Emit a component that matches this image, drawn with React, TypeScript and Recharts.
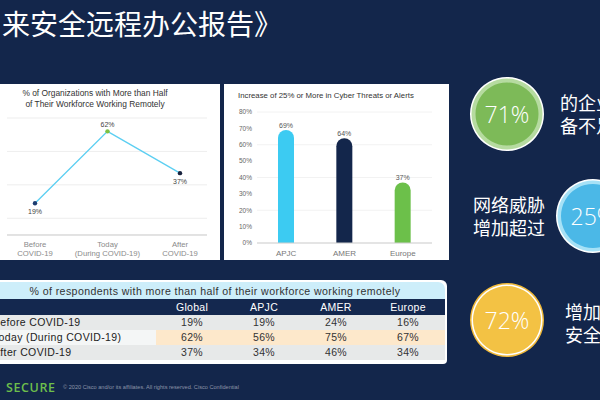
import React from 'react';
import {
  LineChart, Line, XAxis, YAxis, CartesianGrid, LabelList,
  BarChart, Bar, Cell, PieChart, Pie,
} from 'recharts';

// ---------- data ----------
const remoteCategories = ['Before|COVID-19', 'Today|(During COVID-19)', 'After|COVID-19'];
const remoteValues = [19, 62, 37];
const remoteDotColors = ['#1c3c70', '#7cc142', '#17223e'];
const remoteTicks = [0, 10, 20, 30, 40, 50, 60, 70];

const threatRegions = ['APJC', 'AMER', 'Europe'];
const threatValues = [69, 64, 37];
const threatColors = ['#3ccbf2', '#13264b', '#6cc04a'];
const threatTicks = [0, 10, 20, 30, 40, 50, 60, 70, 80];

const tableTitle = '% of respondents with more than half of their workforce working remotely';
const tableColumns = ['Global', 'APJC', 'AMER', 'Europe'];
const tableRowLabels = ['Before COVID-19', 'Today (During COVID-19)', 'After COVID-19'];
const tableBefore = [19, 19, 24, 16];
const tableToday = [62, 56, 75, 67];
const tableAfter = [37, 34, 46, 34];

const statValues = [71, 25, 72];
const statTextA = ['的企业', '备不足'];
const statTextB = ['网络威胁', '增加超过'];
const statTextC = ['增加', '安全'];

const slideTitle = '来安全远程办公报告》';

const remoteData = remoteCategories.map((c, i) => ({ cat: c, value: remoteValues[i] }));
const threatData = threatRegions.map((r, i) => ({ region: r, value: threatValues[i] }));
const tableRows = [tableBefore, tableToday, tableAfter];

const NAVY = '#13264b';
const SANS = '"Liberation Sans", Arial, sans-serif';
const CJK = '"Noto Sans CJK SC", sans-serif';

const TwoLineTick = (props: any) => {
  const { x, y, payload } = props;
  const [a, b] = String(payload.value).split('|');
  return (
    <text x={x} y={y} textAnchor="middle" fill="#8a8a8a" fontSize={7.7} fontFamily={SANS}>
      <tspan x={x} dy={12}>{a}</tspan>
      <tspan x={x} dy={9}>{b}</tspan>
    </text>
  );
};

const RegionTick = (props: any) => {
  const { x, y, payload } = props;
  return (
    <text x={x} y={y + 13} textAnchor="middle" fill="#777" fontSize={8} fontFamily={SANS}>
      {payload.value}
    </text>
  );
};

const ColoredDot = (props: any) => {
  const { cx, cy, index } = props;
  return <circle key={index} cx={cx} cy={cy} r={2.2} fill={remoteDotColors[index]} />;
};

const RemoteLabel = (props: any) => {
  const { x, y, value, index } = props;
  const above = index === 1;
  return (
    <text x={x} y={above ? y - 4 : y + 11} textAnchor="middle" fill="#444" fontSize={7} fontFamily={SANS}>
      {value}%
    </text>
  );
};

const StatCircle = ({ cx, cy, value, fill, ring, outer, inner }: any) => {
  const size = 76;
  return (
    <div style={{ position: 'absolute', left: cx - size / 2, top: cy - size / 2, width: size, height: size }}>
      <PieChart width={size} height={size} margin={{ top: 0, right: 0, bottom: 0, left: 0 }}>
        <Pie data={[{ v: value }]} dataKey="v" cx="50%" cy="50%" innerRadius={0} outerRadius={37}
          fill={outer} stroke="none" isAnimationActive={false} />
        <Pie data={[{ v: value }]} dataKey="v" cx="50%" cy="50%" innerRadius={0} outerRadius={35.5}
          fill={ring} stroke="none" isAnimationActive={false} />
        <Pie data={[{ v: value }]} dataKey="v" cx="50%" cy="50%" innerRadius={0} outerRadius={inner}
          fill={fill} stroke="none" isAnimationActive={false} />
      </PieChart>
      <div style={{
        position: 'absolute', left: 0, top: 0, width: size, height: size, display: 'flex',
        alignItems: 'center', justifyContent: 'center', color: '#fff', fontFamily: '"Open Sans", sans-serif',
        fontSize: 23, fontWeight: 300,
      }}>{value}%</div>
    </div>
  );
};

const TwoLines = ({ left, top, lines }: any) => (
  <div style={{
    position: 'absolute', left, top, color: '#fff', fontFamily: CJK, fontSize: 18,
    lineHeight: '23px', whiteSpace: 'nowrap',
  }}>
    {lines.map((l: string, i: number) => <div key={i}>{l}</div>)}
  </div>
);

export default function App() {
  const colLeft = 156;
  const colW = 72;
  return (
    <div style={{
      position: 'fixed', left: 0, top: 0, width: 600, height: 400, background: NAVY,
      overflow: 'hidden', fontFamily: SANS,
    }}>
      {/* slide title */}
      <div style={{
        position: 'absolute', left: 2, top: 5, color: '#fff', fontFamily: CJK, fontSize: 28,
        lineHeight: '36px', whiteSpace: 'nowrap',
      }}>{slideTitle}</div>

      {/* left panel: line chart */}
      <div style={{ position: 'absolute', left: 0, top: 84, width: 220, height: 176, background: '#fff' }}>
        <div style={{
          position: 'absolute', left: 0, top: 4, width: 190, textAlign: 'center', fontSize: 8.4,
          lineHeight: '10.5px', color: '#333',
        }}>
          % of Organizations with More than Half<br />of Their Workforce Working Remotely
        </div>
        <LineChart width={220} height={176} data={remoteData}
          margin={{ top: 34, right: 13, bottom: 0, left: 7 }}>
          <CartesianGrid vertical={false} stroke="#e8e8e8" strokeWidth={0.8} />
          <XAxis dataKey="cat" interval={0} padding={{ left: 28, right: 27 }} height={25}
            axisLine={{ stroke: '#cfcfcf' }} tickLine={false} tickSize={0} tickMargin={0}
            tick={<TwoLineTick />} />
          <YAxis hide domain={[0, 70]} ticks={remoteTicks} />
          <Line type="linear" dataKey="value" stroke="#5ccff2" strokeWidth={1.3}
            dot={<ColoredDot />} activeDot={false} isAnimationActive={false}>
            <LabelList dataKey="value" content={<RemoteLabel />} />
          </Line>
        </LineChart>
      </div>

      {/* right panel: bar chart */}
      <div style={{ position: 'absolute', left: 224, top: 84, width: 225, height: 176, background: '#fff' }}>
        <div style={{
          position: 'absolute', left: 14, top: 7, fontSize: 7.8, color: '#333', whiteSpace: 'nowrap',
        }}>Increase of 25% or More in Cyber Threats or Alerts</div>
        <BarChart width={225} height={176} data={threatData}
          margin={{ top: 28, right: 17, bottom: 0, left: 0 }}>
          <CartesianGrid vertical={false} stroke="#efefef" strokeWidth={0.8} />
          <XAxis dataKey="region" height={17} axisLine={{ stroke: '#cfcfcf' }} tickLine={false}
            tickSize={0} tickMargin={0} tick={<RegionTick />} />
          <YAxis width={33} domain={[0, 80]} ticks={threatTicks} axisLine={false} tickLine={false}
            tickSize={3} tickMargin={2} tickFormatter={(v: number) => `${v}%`}
            tick={{ fontSize: 6.5, fill: '#666', fontFamily: SANS }} />
          <Bar dataKey="value" barSize={16} radius={[8, 8, 0, 0]} isAnimationActive={false}>
            {threatData.map((d, i) => <Cell key={d.region} fill={threatColors[i]} />)}
            <LabelList dataKey="value" position="top" offset={2}
              formatter={(v: any) => `${v}%`} fill="#555" fontSize={7} fontFamily={SANS} />
          </Bar>
        </BarChart>
      </div>

      {/* table */}
      <div style={{
        position: 'absolute', left: -12, top: 280, width: 459, height: 84, background: '#fff',
        borderRadius: '0 6px 4px 0',
      }} />
      <div style={{
        position: 'absolute', left: -12, top: 282, width: 457, height: 17, background: '#cdeefa',
        borderRadius: '0 7px 0 0', fontSize: 10.6, lineHeight: '19px', color: '#333',
        whiteSpace: 'nowrap', letterSpacing: 0.4,
      }}>
        <span style={{ position: 'absolute', left: 12 + 215 - 200, width: 400, textAlign: 'center' }}>{tableTitle}</span>
      </div>
      <div style={{ position: 'absolute', left: -12, top: 299, width: 457, height: 16, background: '#14284f' }} />
      {tableColumns.map((c, i) => (
        <div key={c} style={{
          position: 'absolute', left: colLeft + i * colW, top: 299, width: colW, height: 16,
          textAlign: 'center', color: '#fff', fontSize: 10.5, lineHeight: '17px', letterSpacing: 0.3,
        }}>{c}</div>
      ))}
      {tableRows.map((row, r) => (
        <React.Fragment key={r}>
          <div style={{
            position: 'absolute', left: -12, top: 315 + r * 15, width: 168, height: 15,
            background: r === 1 ? '#f4f6f6' : '#e7e9e9',
          }} />
          <div style={{
            position: 'absolute', left: 156, top: 315 + r * 15, width: 289, height: 15,
            background: r === 1 ? '#fde8cb' : '#e7e9e9',
          }} />
          <div style={{
            position: 'absolute', left: -7, top: 315 + r * 15, height: 15, lineHeight: '15px',
            fontSize: 10.5, color: '#222', whiteSpace: 'nowrap', letterSpacing: 0.35,
          }}>{tableRowLabels[r]}</div>
          {row.map((v, i) => (
            <div key={i} style={{
              position: 'absolute', left: colLeft + i * colW, top: 315 + r * 15, width: colW, height: 15,
              textAlign: 'center', lineHeight: '15px', fontSize: 10.5, color: '#333', letterSpacing: 0.3,
            }}>{v}%</div>
          ))}
        </React.Fragment>
      ))}

      {/* stat circles */}
      <StatCircle cx={507} cy={114} value={statValues[0]} fill="#7dba58" ring="#b6dba0" outer="#ffffff" inner={31.5} />
      <TwoLines left={560} top={91} lines={statTextA} />
      <StatCircle cx={593} cy={216} value={statValues[1]} fill="#4bb8e7" ring="#a6e1f6" outer="#ffffff" inner={32} />
      <TwoLines left={473} top={193} lines={statTextB} />
      <StatCircle cx={507} cy={320} value={statValues[2]} fill="#f3c244" ring="#ffffff" outer="#f0b93a" inner={34} />
      <TwoLines left={565} top={300} lines={statTextC} />

      {/* footer */}
      <div style={{
        position: 'absolute', left: 6, top: 379, color: '#6dbf4b', fontFamily: '"Open Sans", sans-serif',
        fontSize: 12.5, fontWeight: 600, letterSpacing: 0.6,
      }}>SECURE</div>
      <div style={{
        position: 'absolute', left: 63, top: 384, color: '#8c95a8', fontSize: 5.6, whiteSpace: 'nowrap',
      }}>© 2020 Cisco and/or its affiliates. All rights reserved. Cisco Confidential</div>
    </div>
  );
}
